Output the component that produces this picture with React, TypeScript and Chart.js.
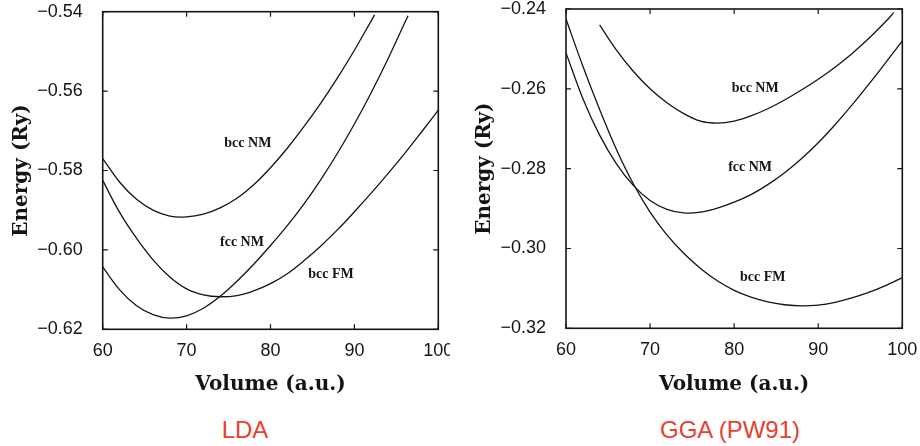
import React, { useEffect, useRef } from "react";
import { Chart, registerables } from "chart.js";

Chart.register(...registerables);

// ---------- Data ----------
const VOLUME_TICKS = [60, 70, 80, 90, 100];
const LDA_ENERGY_TICKS = [-0.62, -0.6, -0.58, -0.56, -0.54];
const GGA_ENERGY_TICKS = [-0.32, -0.3, -0.28, -0.26, -0.24];

// LDA
const LDA_BCC_NM_V = [60, 62, 64, 66, 68, 70, 72, 74, 76, 78, 80, 82, 84, 86, 88, 90, 92, 92.4];
const LDA_BCC_NM_E = [-0.577, -0.5829, -0.5872, -0.59, -0.5915, -0.5917, -0.591, -0.5894, -0.587, -0.5836, -0.5793, -0.5744, -0.5689, -0.563, -0.5566, -0.5497, -0.5423, -0.5408];

const LDA_FCC_NM_V = [60, 62, 64, 66, 68, 70, 72, 74, 76, 78, 80, 82, 84, 86, 88, 90, 92, 94, 96, 96.4];
const LDA_FCC_NM_E = [-0.6043, -0.61, -0.614, -0.6163, -0.6172, -0.6166, -0.6147, -0.6117, -0.6079, -0.6036, -0.5989, -0.5939, -0.5884, -0.5823, -0.5756, -0.5683, -0.5604, -0.5519, -0.5428, -0.541];

const LDA_BCC_FM_V = [60, 62, 64, 66, 68, 70, 72, 74, 76, 78, 80, 82, 84, 86, 88, 90, 92, 94, 96, 98, 100];
const LDA_BCC_FM_E = [-0.5825, -0.5905, -0.597, -0.6025, -0.6068, -0.6098, -0.6113, -0.6118, -0.6115, -0.6103, -0.6085, -0.606, -0.6027, -0.599, -0.5949, -0.5904, -0.5857, -0.5808, -0.5757, -0.5703, -0.5648];

// GGA (PW91)
const GGA_BCC_NM_V = [64, 66, 68, 70, 72, 74, 76, 78, 80, 82, 84, 86, 88, 90, 92, 94, 96, 98, 99];
const GGA_BCC_NM_E = [-0.244, -0.2503, -0.2556, -0.26, -0.2635, -0.2662, -0.2681, -0.2686, -0.2681, -0.2668, -0.265, -0.2628, -0.2603, -0.2576, -0.2546, -0.2512, -0.2474, -0.2432, -0.2409];

const GGA_FCC_NM_V = [60, 62, 64, 66, 68, 70, 72, 74, 76, 78, 80, 82, 84, 86, 88, 90, 92, 94, 96, 98, 100];
const GGA_FCC_NM_E = [-0.251, -0.2624, -0.2716, -0.2788, -0.2842, -0.288, -0.2902, -0.2911, -0.2909, -0.2899, -0.2884, -0.2865, -0.284, -0.281, -0.2775, -0.2735, -0.269, -0.2641, -0.2589, -0.2535, -0.248];

const GGA_BCC_FM_V = [60, 62, 64, 66, 68, 70, 72, 74, 76, 78, 80, 82, 84, 86, 88, 90, 92, 94, 96, 98, 100];
const GGA_BCC_FM_E = [-0.2425, -0.2543, -0.2652, -0.2752, -0.2838, -0.2909, -0.2966, -0.3012, -0.305, -0.3081, -0.3105, -0.3122, -0.3134, -0.3141, -0.3144, -0.3142, -0.3135, -0.3124, -0.311, -0.3093, -0.3073];

// Curve annotations (text, anchored in data units)
const CURVE_NAMES = ["bcc NM", "fcc NM", "bcc FM"];
const LDA_NAME_V = [77.3, 76.6, 87.2];
const LDA_NAME_E = [-0.5731, -0.598, -0.6061];
const GGA_NAME_V = [82.5, 81.9, 83.4];
const GGA_NAME_E = [-0.2598, -0.2798, -0.3072];

const PANEL_TITLES = ["LDA", "GGA (PW91)"];

// ---------- Chart helpers ----------
const INK = "#141414";
const TICK_FONT = { family: "'Liberation Sans', Arial, sans-serif", size: 18 };
const TITLE_FONT = { family: "'DejaVu Serif', serif", size: 20, weight: "bold" as const, lineHeight: 1.2 };

const fmtEnergy = (v: number) => {
  const s = Math.abs(v).toFixed(2);
  return v < 0 ? "\u2212" + s : s;
};

const framePlugin = {
  id: "frameTicks",
  afterDraw(chart: any) {
    const { ctx, chartArea, scales } = chart;
    const { left, right, top, bottom } = chartArea;
    const x = scales.x;
    const y = scales.y;
    ctx.save();
    ctx.strokeStyle = INK;
    ctx.lineWidth = 1.6;
    ctx.strokeRect(left, top, right - left, bottom - top);
    ctx.lineWidth = 1.2;
    ctx.beginPath();
    x.ticks.forEach((t: any) => {
      const px = x.getPixelForValue(t.value);
      ctx.moveTo(px, bottom);
      ctx.lineTo(px, bottom - 5);
      ctx.moveTo(px, top);
      ctx.lineTo(px, top + 5);
    });
    y.ticks.forEach((t: any) => {
      const py = y.getPixelForValue(t.value);
      ctx.moveTo(left, py);
      ctx.lineTo(left + 5, py);
      ctx.moveTo(right, py);
      ctx.lineTo(right - 5, py);
    });
    ctx.stroke();
    ctx.restore();
  },
};

const makeLabelPlugin = (names: string[], vs: number[], es: number[]) => ({
  id: "curveNames",
  afterDatasetsDraw(chart: any) {
    const { ctx, scales } = chart;
    ctx.save();
    ctx.fillStyle = INK;
    ctx.font = "bold 14px 'Liberation Serif', 'Times New Roman', serif";
    ctx.textAlign = "center";
    ctx.textBaseline = "middle";
    names.forEach((n, i) => {
      ctx.fillText(n, scales.x.getPixelForValue(vs[i]), scales.y.getPixelForValue(es[i]));
    });
    ctx.restore();
  },
});

type PanelSpec = {
  series: { v: number[]; e: number[] }[];
  yTicks: number[];
  nameV: number[];
  nameE: number[];
  yWidth: number;
  xHeight: number;
  padTop: number;
  padRight: number;
  yTitlePad: number;
};

function Panel({ spec, width, height }: { spec: PanelSpec; width: number; height: number }) {
  const ref = useRef<HTMLCanvasElement | null>(null);
  useEffect(() => {
    if (!ref.current) return;
    const yMin = spec.yTicks[0];
    const yMax = spec.yTicks[spec.yTicks.length - 1];
    const chart = new Chart(ref.current, {
      type: "line",
      data: {
        datasets: spec.series.map((s) => ({
          data: s.v.map((v, i) => ({ x: v, y: s.e[i] })),
          borderColor: INK,
          borderWidth: 1.3,
          pointRadius: 0,
          fill: false,
          tension: 0.35,
        })),
      },
      options: {
        responsive: false,
        animation: false,
        devicePixelRatio: 1,
        layout: { padding: { left: 0, right: spec.padRight, top: spec.padTop, bottom: 0 } },
        plugins: { legend: { display: false }, tooltip: { enabled: false } },
        scales: {
          x: {
            type: "linear",
            min: 60,
            max: 100,
            afterBuildTicks: (s: any) => {
              s.ticks = VOLUME_TICKS.map((v) => ({ value: v }));
            },
            grid: { display: false },
            border: { display: false },
            ticks: { font: TICK_FONT, color: INK, padding: 3, maxRotation: 0, autoSkip: false, callback: (v: any) => String(v) },
            title: { display: true, text: "Volume (a.u.)", font: TITLE_FONT, color: INK, padding: { top: 0, bottom: 13 } },
            afterFit: (s: any) => {
              s.height = spec.xHeight;
              s.paddingLeft = 0;
              s.paddingRight = 0;
            },
          },
          y: {
            type: "linear",
            min: yMin,
            max: yMax,
            afterBuildTicks: (s: any) => {
              s.ticks = spec.yTicks.map((v) => ({ value: v }));
            },
            grid: { display: false },
            border: { display: false },
            ticks: { font: TICK_FONT, color: INK, padding: 12, autoSkip: false, callback: (v: any) => fmtEnergy(Number(v)) },
            title: { display: true, text: "Energy (Ry)", font: TITLE_FONT, color: INK, padding: { top: spec.yTitlePad, bottom: 0 } },
            afterFit: (s: any) => {
              s.width = spec.yWidth;
              s.paddingTop = 0;
              s.paddingBottom = 0;
            },
          },
        },
      } as any,
      plugins: [framePlugin, makeLabelPlugin(CURVE_NAMES, spec.nameV, spec.nameE)],
    });
    return () => chart.destroy();
  }, [spec]);
  return <canvas ref={ref} width={width} height={height} style={{ display: "block" }} />;
}

const LDA_SPEC: PanelSpec = {
  series: [
    { v: LDA_BCC_NM_V, e: LDA_BCC_NM_E },
    { v: LDA_FCC_NM_V, e: LDA_FCC_NM_E },
    { v: LDA_BCC_FM_V, e: LDA_BCC_FM_E },
  ],
  yTicks: LDA_ENERGY_TICKS,
  nameV: LDA_NAME_V,
  nameE: LDA_NAME_E,
  yWidth: 102.7,
  xHeight: 410 - 329.3,
  padTop: 11.7,
  padRight: 460 - 438.3,
  yTitlePad: 10,
};

const GGA_SPEC: PanelSpec = {
  series: [
    { v: GGA_BCC_NM_V, e: GGA_BCC_NM_E },
    { v: GGA_FCC_NM_V, e: GGA_FCC_NM_E },
    { v: GGA_BCC_FM_V, e: GGA_BCC_FM_E },
  ],
  yTicks: GGA_ENERGY_TICKS,
  nameV: GGA_NAME_V,
  nameE: GGA_NAME_E,
  yWidth: 106,
  xHeight: 410 - 328.3,
  padTop: 9,
  padRight: 460 - 442.3,
  yTitlePad: 13,
};

const captionStyle: React.CSSProperties = {
  position: "absolute",
  top: 414,
  transform: "translateX(-50%)",
  whiteSpace: "nowrap",
  fontFamily: "'Liberation Sans', Arial, sans-serif",
  fontSize: 24,
  lineHeight: "32px",
  color: "#e8402f",
};

export default function App() {
  return (
    <div style={{ position: "fixed", left: 0, top: 0, width: 920, height: 446, background: "#fff", overflow: "hidden" }}>
      <div style={{ position: "absolute", left: 0, top: 0, width: 450, height: 410, overflow: "hidden" }}>
        <Panel spec={LDA_SPEC} width={460} height={410} />
      </div>
      <div style={{ position: "absolute", left: 460, top: 0, width: 460, height: 410, overflow: "hidden" }}>
        <Panel spec={GGA_SPEC} width={460} height={410} />
      </div>
      <div style={{ ...captionStyle, left: 245 }}>{PANEL_TITLES[0]}</div>
      <div style={{ ...captionStyle, left: 730 }}>{PANEL_TITLES[1]}</div>
    </div>
  );
}
